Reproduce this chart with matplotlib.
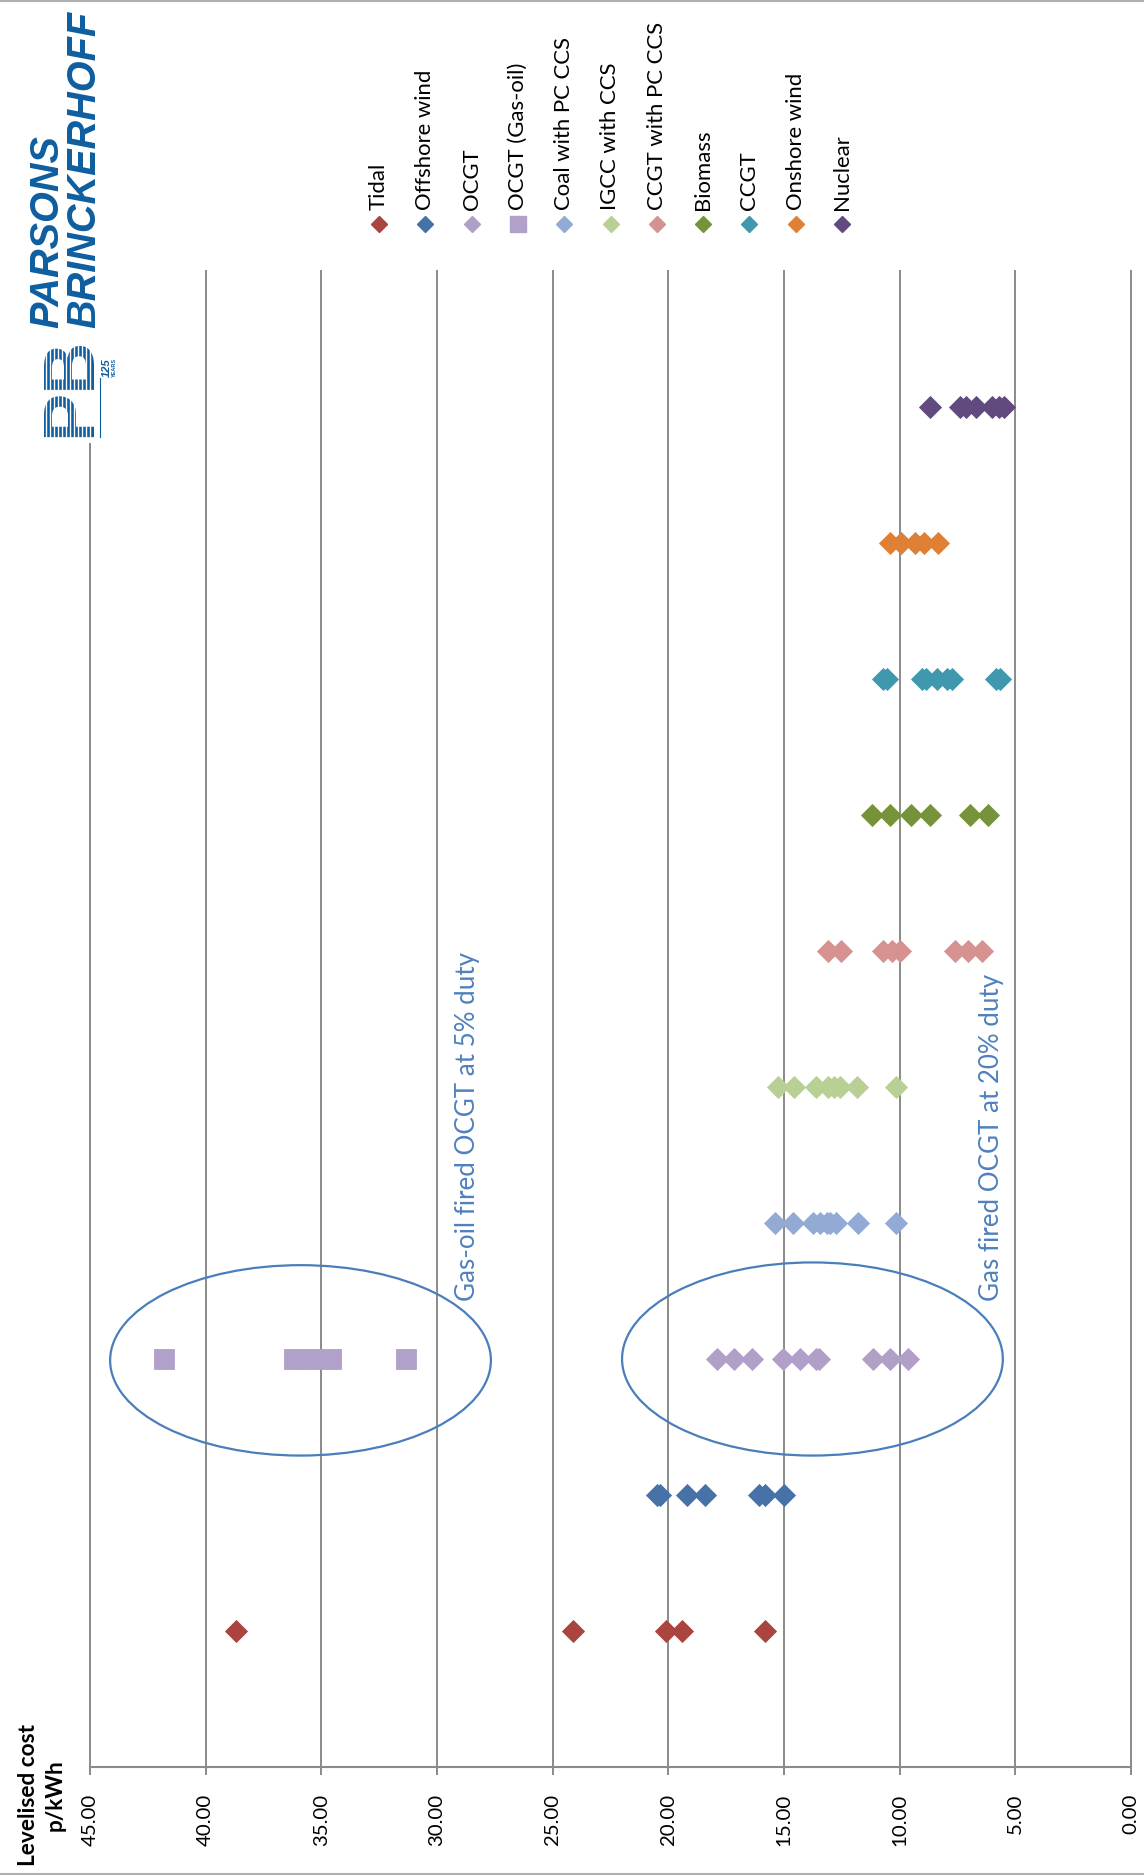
import matplotlib
matplotlib.use("Agg")
from matplotlib import pyplot as plt
from matplotlib.patches import Ellipse, Rectangle

#
# Levelised cost chart, drawn already turned on its side (as in the source page)
#

# Levelised cost values (p/kWh), one list per technology
tidal = [38.7, 24.1, 20.1, 19.4, 15.8]
offshore_wind = [20.5, 20.35, 19.2, 18.4, 16.1, 15.8, 15.0]
ocgt = [17.9, 17.15, 16.4, 15.05, 14.3, 13.6, 13.5, 11.15, 10.4, 9.65]
ocgt_gas_oil = [41.8, 36.2, 35.4, 34.6, 31.35]
coal_pc_ccs = [15.4, 14.6, 13.75, 13.45, 13.15, 13.0, 12.75, 11.8, 10.15]
igcc_ccs = [15.25, 14.55, 13.6, 13.1, 12.85, 12.6, 11.85, 10.15]
ccgt_pc_ccs = [13.1, 12.55, 10.7, 10.35, 10.0, 7.6, 7.05, 6.45]
biomass = [11.2, 10.4, 9.5, 8.7, 6.95, 6.2]
ccgt = [10.7, 10.55, 9.05, 8.85, 8.4, 7.95, 7.75, 5.85, 5.65]
onshore_wind = [10.4, 9.95, 9.35, 8.95, 8.35]
nuclear = [8.7, 7.4, 7.15, 6.7, 6.0, 5.7, 5.5]

names = ["Tidal", "Offshore wind", "OCGT", "OCGT (Gas-oil)", "Coal with PC CCS",
         "IGCC with CCS", "CCGT with PC CCS", "Biomass", "CCGT", "Onshore wind", "Nuclear"]
values = [tidal, offshore_wind, ocgt, ocgt_gas_oil, coal_pc_ccs, igcc_ccs,
          ccgt_pc_ccs, biomass, ccgt, onshore_wind, nuclear]
slots = [1, 2, 3, 3, 4, 5, 6, 7, 8, 9, 10]
colors = ["#A9443F", "#4672A8", "#B0A0C8", "#B1A0C7", "#93AAD4", "#B8CF95",
          "#D69290", "#76933A", "#3F98AE", "#DE8137", "#604A7E"]
markers = ["D", "D", "D", "s", "D", "D", "D", "D", "D", "D", "D"]

cost_ticks = list(range(0, 50, 5))

plt.rcParams['font.family'] = ['Lato', 'DejaVu Sans']

W, H = 1144, 1876
fig = plt.figure(figsize=(W / 100, H / 100), dpi=100)
renderer = fig.canvas.get_renderer()


# Font size that makes a (horizontal) string a given pixel length
def fit_size(label, target_px, **kw):
    t = fig.text(0, 0, label, fontsize=10, **kw)
    w = t.get_window_extent(renderer).width
    t.remove()
    return 10 * target_px / w


grid_col = "#8A8A8A"

# main plot: cost runs right-to-left, technologies bottom-to-top
ax = fig.add_axes([90 / W, 1 - 1767 / H, (1131 - 90) / W, (1767 - 271) / H])
ax.set_xlim(45, 0)
ax.set_ylim(0, 11)
ax.set_axisbelow(True)

for name, vals, slot, col, mk in zip(names, values, slots, colors, markers):
    ms = 13.9 if mk == "s" else 11.0
    ax.plot(vals, [slot] * len(vals), linestyle="none", marker=mk, markersize=ms,
            color=col, markeredgecolor=col, markeredgewidth=0.6, zorder=3)

tick_fs = fit_size("45.00", 52)
ax.set_xticks(cost_ticks)
ax.set_xticklabels([f"{v:.2f}" for v in cost_ticks], rotation=90, fontsize=tick_fs)
ax.set_yticks([])
ax.tick_params(axis="x", direction="out", length=6, width=1.4, color=grid_col, pad=13)
ax.grid(axis="x", color=grid_col, linewidth=1.4)
for gl in ax.get_xgridlines():
    gl.set_clip_on(False)
for side in ["top", "left", "right"]:
    ax.spines[side].set_visible(False)
ax.spines["bottom"].set_color(grid_col)
ax.spines["bottom"].set_linewidth(1.5)

# rings round the two OCGT groups and their notes
ring_col = "#4A7EBB"
ax.add_patch(Ellipse((35.9, 2.99), 16.46, 1.40, fill=False, edgecolor=ring_col, linewidth=1.6, zorder=4))
ax.add_patch(Ellipse((13.77, 3.0), 16.46, 1.42, fill=False, edgecolor=ring_col, linewidth=1.6, zorder=4))
note_fs = fit_size("Gas-oil fired OCGT at 5% duty", 349)
ax.text(28.7, 3.43, "Gas-oil fired OCGT at 5% duty", rotation=90, ha="center", va="bottom",
        fontsize=note_fs, color="#4F81BD")
ax.text(6.05, 3.43, "Gas fired OCGT at 20% duty", rotation=90, ha="center", va="bottom",
        fontsize=note_fs, color="#4F81BD")

# overlay in pixel units for legend, axis title, logo and frame
ov = fig.add_axes([0, 0, 1, 1])
ov.set_xlim(0, W)
ov.set_ylim(H, 0)
ov.axis("off")
ov.set_zorder(5)
ov.patch.set_visible(False)

leg_fs = fit_size("Coal with PC CCS", 173)
for i, (name, col, mk) in enumerate(zip(names, colors, markers)):
    x = 379 + i * 46.3
    ov.plot([x], [224], marker=mk, markersize=12.0 if mk == "s" else 8.5,
            color=col, markeredgecolor=col, linestyle="none")
    ov.text(x, 210, name, rotation=90, rotation_mode="anchor", ha="left", va="center",
            fontsize=leg_fs)

title_fs = fit_size("Levelised cost", 143, weight="bold")
ov.text(42, 1795, "Levelised cost\np/kWh", rotation=90, ha="center", va="center",
        multialignment="center", fontsize=title_fs, weight="bold", linespacing=1.3)

# logo (white box hides the top of the 45 gridline)
ov.add_patch(Rectangle((0, 0), 140, 443, facecolor="white", edgecolor="none", zorder=1))
logo_col = "#0E5EA0"
logo_fs = fit_size("BRINCKERHOFF", 316, family="Liberation Sans", weight="bold", style="italic")
ov.text(66, 328, "PARSONS\nBRINCKERHOFF", rotation=90, ha="center", va="bottom",
        multialignment="left", linespacing=0.95, fontsize=logo_fs, family="Liberation Sans",
        weight="bold", style="italic", color=logo_col, zorder=2)
ov.text(90, 437, "PB", rotation=90, rotation_mode="anchor", ha="left", va="baseline",
        fontsize=52, family="Liberation Sans", weight="bold", color=logo_col, zorder=2)
for sx in range(34, 92, 4):
    ov.plot([sx, sx], [340, 440], color="white", linewidth=1.0, zorder=3)
ov.text(110, 377, "125", rotation=90, rotation_mode="anchor", ha="left", va="baseline",
        fontsize=8, family="Liberation Sans", weight="bold", style="italic", color=logo_col, zorder=2)
ov.text(116, 377, "YEARS", rotation=90, rotation_mode="anchor", ha="left", va="baseline",
        fontsize=4, family="Liberation Sans", weight="bold", color=logo_col, zorder=2)
ov.plot([100, 100], [378, 437], color=logo_col, linewidth=0.8, zorder=2)

# thin frame lines at top and bottom of the page
ov.plot([0, W], [1, 1], color="#B0B0B0", linewidth=1.5)
ov.plot([0, W], [1874, 1874], color="#B0B0B0", linewidth=1.5)

plt.savefig("out.png", dpi=100)
plt.close()
